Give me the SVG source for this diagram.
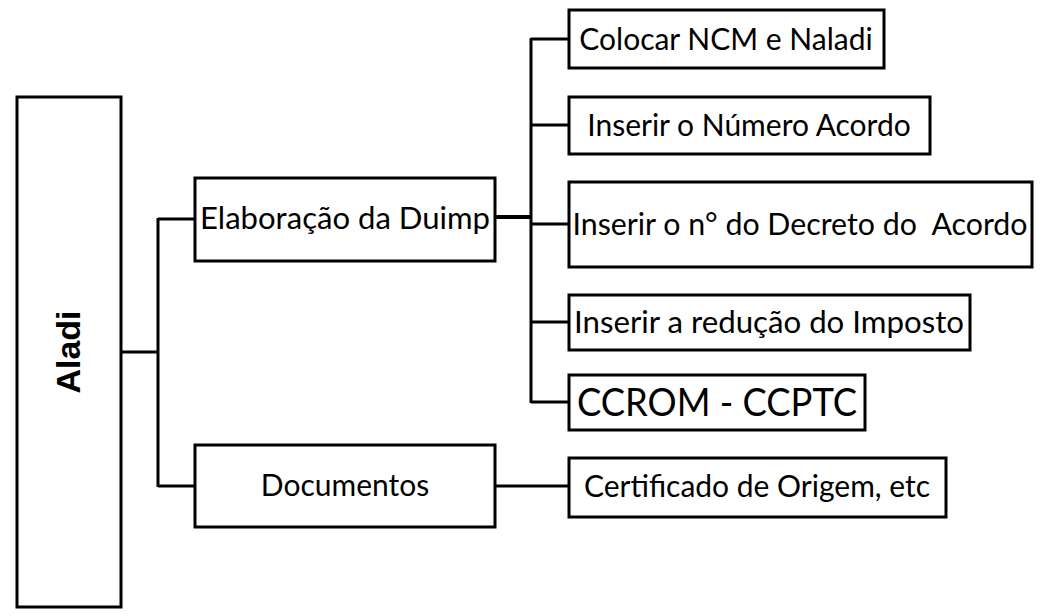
<svg xmlns="http://www.w3.org/2000/svg" width="1045" height="616" viewBox="0 0 1045 616">
<style>
rect{fill:#fff;stroke:#000;stroke-width:3}
text{font-family:Lato,"Open Sans","Liberation Sans",sans-serif;font-size:30px;fill:#000}
.c line{stroke:#000;stroke-width:3}
</style>
<rect x="0" y="0" width="1045" height="616" style="stroke:none"/>
<g class="c">
<line x1="121" y1="352" x2="158" y2="352"/>
<line x1="158" y1="218" x2="158" y2="487"/>
<line x1="158" y1="219" x2="195" y2="219"/>
<line x1="158" y1="486" x2="195" y2="486"/>
<line x1="495" y1="217" x2="531" y2="217" style="stroke-width:4"/>
<line x1="531" y1="38" x2="531" y2="403"/>
<line x1="531" y1="39" x2="569" y2="39"/>
<line x1="531" y1="125" x2="569" y2="125"/>
<line x1="531" y1="224" x2="569" y2="224"/>
<line x1="531" y1="322" x2="569" y2="322"/>
<line x1="531" y1="402" x2="569" y2="402"/>
<line x1="495" y1="486" x2="569" y2="486"/>
</g>
<g id="aladi"><rect x="17" y="97" width="104" height="510"/><text transform="translate(80,352) rotate(-90)" text-anchor="middle" style="font-weight:bold;font-size:34px;font-family:'Liberation Sans',sans-serif">Aladi</text></g>
<g id="elab"><rect x="195" y="178" width="300" height="83"/><text x="345" y="229" text-anchor="middle" textLength="290" lengthAdjust="spacingAndGlyphs">Elaboração da Duimp</text></g>
<g id="docs"><rect x="195" y="445" width="300" height="82"/><text x="345" y="496" text-anchor="middle">Documentos</text></g>
<g id="n1"><rect x="569" y="10" width="315" height="58"/><text x="726" y="50" text-anchor="middle">Colocar NCM e Naladi</text></g>
<g id="n2"><rect x="569" y="97" width="361" height="57"/><text x="749" y="136" text-anchor="middle">Inserir o Número Acordo</text></g>
<g id="n3"><rect x="569" y="182" width="463" height="85"/><text x="800" y="235" text-anchor="middle" textLength="455" lengthAdjust="spacingAndGlyphs" xml:space="preserve">Inserir o n° do Decreto do  Acordo</text></g>
<g id="n4"><rect x="569" y="295" width="401" height="55"/><text x="769" y="333" text-anchor="middle" textLength="390" lengthAdjust="spacingAndGlyphs">Inserir a redução do Imposto</text></g>
<g id="n5"><rect x="569" y="375" width="296" height="55"/><text x="717" y="416" text-anchor="middle" style="font-size:38px" textLength="280" lengthAdjust="spacingAndGlyphs">CCROM - CCPTC</text></g>
<g id="n6"><rect x="569" y="458" width="377" height="59"/><text x="757" y="497" text-anchor="middle">Certificado de Origem, etc</text></g>
</svg>
